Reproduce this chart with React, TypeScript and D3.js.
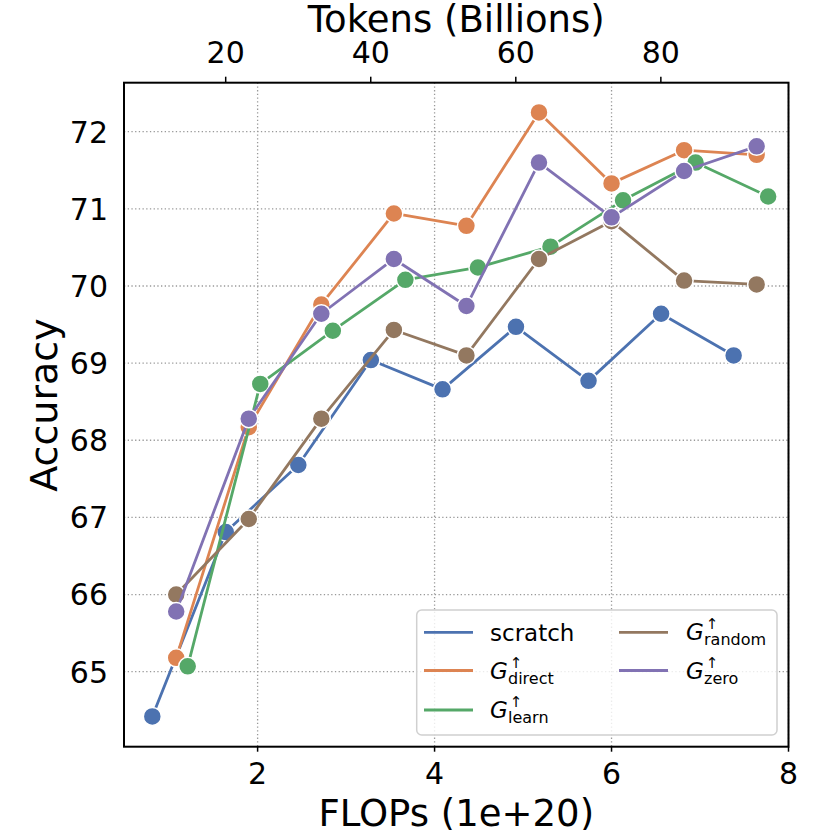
import React from "react";
import * as d3 from "d3";

const scratchX = [0.81, 1.64, 2.46, 3.28, 4.09, 4.92, 5.74, 6.56, 7.38];
const scratchY = [64.42, 66.81, 67.68, 69.04, 68.66, 69.47, 68.77, 69.64, 69.1];
const growX = [1.08, 1.9, 2.72, 3.54, 4.36, 5.18, 6.0, 6.82, 7.64];
const directY = [65.18, 68.17, 69.76, 70.94, 70.78, 72.25, 71.33, 71.76, 71.7];
const learnX = [1.21, 2.03, 2.85, 3.67, 4.49, 5.31, 6.13, 6.95, 7.77];
const learnY = [65.07, 68.73, 69.42, 70.08, 70.24, 70.51, 71.11, 71.6, 71.16];
const randomY = [66.0, 66.98, 68.28, 69.43, 69.1, 70.35, 70.84, 70.07, 70.02];
const zeroY = [65.78, 68.28, 69.64, 70.35, 69.74, 71.6, 70.89, 71.49, 71.81];

const flopTicks = [2, 4, 6, 8];
const tokenTicks = [20, 40, 60, 80];
const accTicks = [65, 66, 67, 68, 69, 70, 71, 72];
const tokensPerFlop = 12.2;

const series = [
  { key: "scratch", sub: "", x: scratchX, y: scratchY, color: "#4C72B0" },
  { key: "direct", sub: "direct", x: growX, y: directY, color: "#DD8452" },
  { key: "learn", sub: "learn", x: learnX, y: learnY, color: "#55A868" },
  { key: "random", sub: "random", x: growX, y: randomY, color: "#937860" },
  { key: "zero", sub: "zero", x: growX, y: zeroY, color: "#8172B3" },
];

const L = 124, R = 788.5, T = 82.7, B = 746.7;
const xDom: [number, number] = [0.49, 8.0];
const FONT = "DejaVu Sans, sans-serif";

export default function App() {
  const x = d3.scaleLinear().domain(xDom).range([L, R]);
  const xTop = d3.scaleLinear().domain([xDom[0] * tokensPerFlop, xDom[1] * tokensPerFlop]).range([L, R]);
  const y = d3.scaleLinear().domain([64.028, 72.635]).range([B, T]);

  const legendItems = [
    { s: series[0], col: 0, row: 0 },
    { s: series[1], col: 0, row: 1 },
    { s: series[2], col: 0, row: 2 },
    { s: series[3], col: 1, row: 0 },
    { s: series[4], col: 1, row: 1 },
  ];
  const rowY = [632.3, 670.5, 710];
  const colLineX = [424, 619];
  const colTextX = [490, 686];

  return (
    <svg width={830} height={830} style={{ position: "absolute", left: 0, top: 0, background: "#fff" }} fontFamily={FONT}>
      <rect x={0} y={0} width={830} height={830} fill="#fff" />
      {/* grid */}
      {flopTicks.map((t) => (
        <line key={"gx" + t} x1={x(t)} x2={x(t)} y1={T} y2={B} stroke="#999" strokeWidth={1.3} strokeDasharray="1.3,2.4" />
      ))}
      {accTicks.map((t) => (
        <line key={"gy" + t} x1={L} x2={R} y1={y(t)} y2={y(t)} stroke="#999" strokeWidth={1.3} strokeDasharray="1.3,2.4" />
      ))}
      {/* series */}
      {series.map((s) => {
        const pts = s.x.map((v, i) => [x(v), y(s.y[i])] as [number, number]);
        const path = d3.line()(pts) || "";
        return (
          <g key={s.key}>
            <path d={path} fill="none" stroke={s.color} strokeWidth={2.8} strokeLinejoin="round" strokeLinecap="butt" />
            {pts.map((p, i) => (
              <circle key={i} cx={p[0]} cy={p[1]} r={9} fill={s.color} stroke="#fff" strokeWidth={1.5} />
            ))}
          </g>
        );
      })}
      {/* spines */}
      <rect x={L} y={T} width={R - L} height={B - T} fill="none" stroke="#000" strokeWidth={2} />
      {/* bottom ticks */}
      {flopTicks.map((t) => (
        <g key={"bt" + t}>
          <line x1={x(t)} x2={x(t)} y1={B} y2={B + 5} stroke="#000" strokeWidth={1.5} />
          <text x={x(t)} y={784} textAnchor="middle" fontSize={30} fill="#000">{t}</text>
        </g>
      ))}
      {/* top ticks */}
      {tokenTicks.map((t) => (
        <g key={"tt" + t}>
          <line x1={xTop(t)} x2={xTop(t)} y1={T} y2={T - 6} stroke="#000" strokeWidth={1.5} />
          <text x={xTop(t)} y={63} textAnchor="middle" fontSize={30} fill="#000">{t}</text>
        </g>
      ))}
      {/* y ticks */}
      {accTicks.map((t) => (
        <text key={"yt" + t} x={108} y={y(t) + 10.9} textAnchor="end" fontSize={30} fill="#000">{t}</text>
      ))}
      {/* axis labels */}
      <text x={(L + R) / 2} y={32} textAnchor="middle" fontSize={37} fill="#000">Tokens (Billions)</text>
      <text x={(L + R) / 2} y={826} textAnchor="middle" fontSize={37} fill="#000">FLOPs (1e+20)</text>
      <text transform={`translate(57,405) rotate(-90)`} textAnchor="middle" fontSize={38} fill="#000">Accuracy</text>
      {/* legend */}
      <rect x={416.7} y={610} width={360.3} height={125} rx={5} ry={5} fill="#fff" fillOpacity={0.8} stroke="#d0d0d0" strokeWidth={1.5} />
      {legendItems.map(({ s, col, row }) => {
        const ly = rowY[row];
        const tx = colTextX[col];
        return (
          <g key={"lg" + s.key}>
            <line x1={colLineX[col]} x2={colLineX[col] + 49} y1={ly} y2={ly} stroke={s.color} strokeWidth={2.8} />
            {s.sub === "" ? (
              <text x={tx} y={ly + 9} fontSize={23} fill="#000">{s.key}</text>
            ) : (
              <g>
                <text x={tx} y={ly + 8} fontSize={23} fontStyle="italic" fill="#000">G</text>
                <text x={tx + 26} y={ly - 3} fontSize={15} textAnchor="middle" fill="#000">↑</text>
                <text x={tx + 18} y={ly + 13} fontSize={16} fill="#000">{s.sub}</text>
              </g>
            )}
          </g>
        );
      })}
    </svg>
  );
}
